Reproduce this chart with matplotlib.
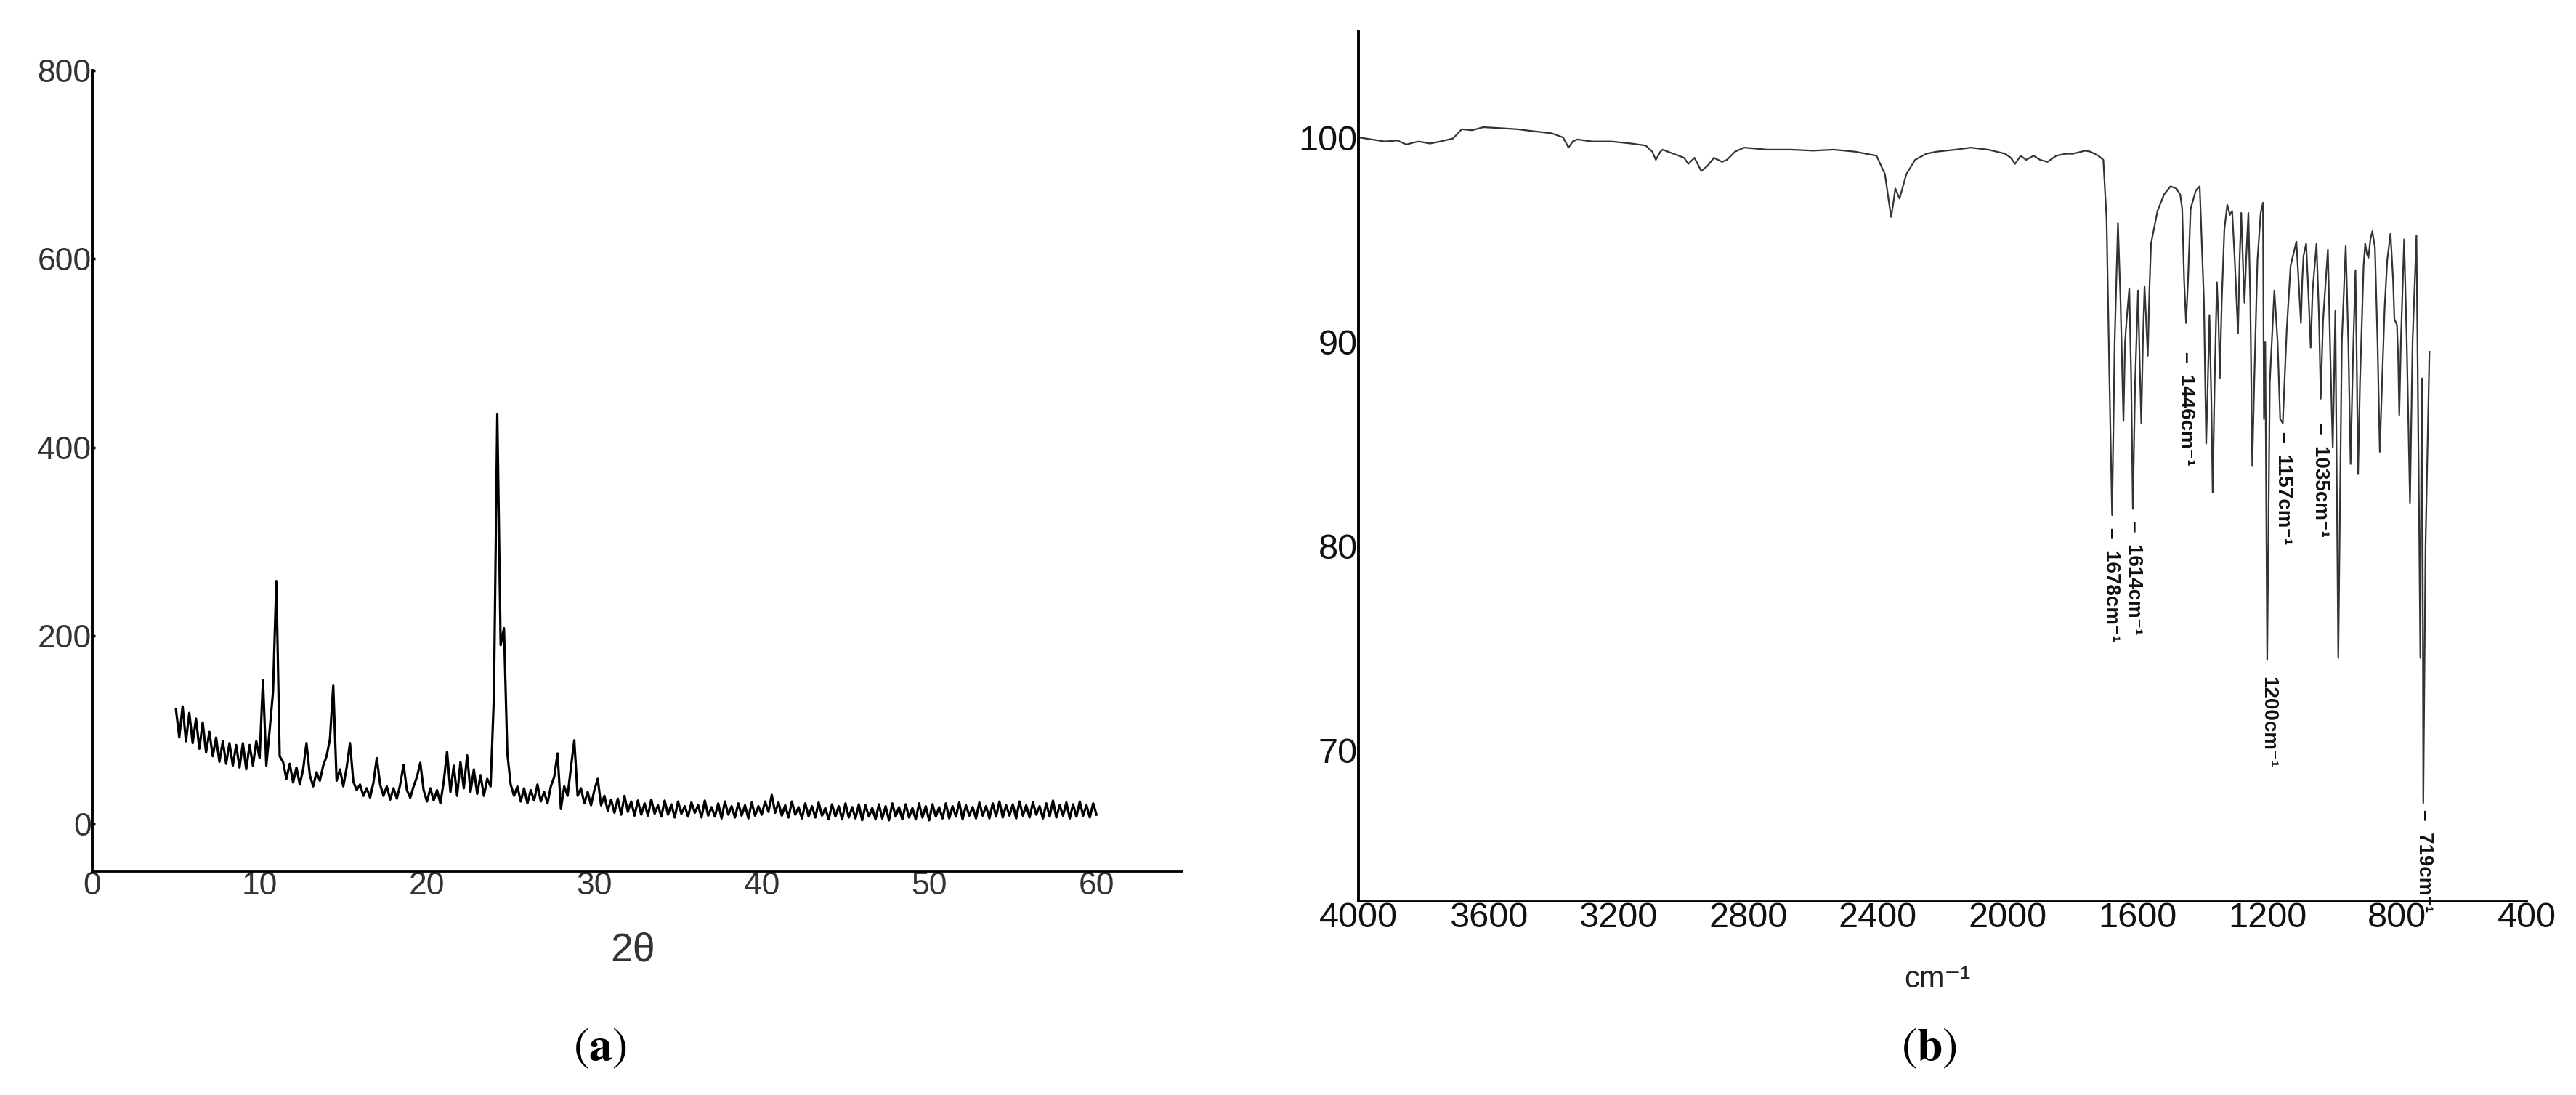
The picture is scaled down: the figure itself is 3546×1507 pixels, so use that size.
"""
Two-panel figure: (a) powder XRD pattern, (b) FT-IR spectrum.
"""
import numpy as np
import matplotlib
matplotlib.use("Agg")
import matplotlib.pyplot as plt

# ---------------------------------------------------------------- data (a)
# intensity read every 0.2 deg from 5.0 to 60.0 (2 theta)
xrd_start, xrd_step = 5.0, 0.2
xrd_intensity = [
    122, 92, 125, 88, 118, 86, 112, 80, 108, 76,      # 5.0 - 6.8
    98, 72, 92, 66, 88, 64, 86, 62, 84, 60,           # 7.0 - 8.8
    86, 58, 84, 62, 88, 70, 153, 62, 100, 140,        # 9.0 - 10.8
    258, 72, 66, 48, 64, 44, 60, 42, 58, 86,          # 11.0 - 12.8
    52, 40, 55, 46, 62, 72, 90, 147, 46, 58,          # 13.0 - 14.8
    40, 60, 86, 45, 36, 42, 30, 38, 28, 44,           # 15.0 - 16.8
    70, 42, 30, 40, 26, 38, 27, 42, 63, 36,           # 17.0 - 18.8
    28, 40, 50, 65, 36, 24, 38, 25, 36, 22,           # 19.0 - 20.8
    45, 77, 34, 62, 30, 66, 38, 73, 34, 58,           # 21.0 - 22.8
    32, 52, 30, 48, 40, 137, 435, 190, 208, 75,       # 23.0 - 24.8
    42, 30, 40, 24, 38, 22, 36, 25, 42, 24,           # 25.0 - 26.8
    34, 22, 40, 50, 75, 16, 40, 30, 60, 89,           # 27.0 - 28.8
    30, 38, 22, 34, 20, 36, 48, 20, 30, 14,           # 29.0 - 30.8
    26, 12, 27, 10, 30, 13, 24, 9, 25, 10,            # 31.0 - 32.8
    22, 9, 26, 11, 20, 8, 25, 10, 21, 7,              # 33.0 - 34.8
    24, 11, 19, 8, 23, 12, 20, 7, 25, 9,              # 35.0 - 36.8
    18, 8, 22, 6, 24, 10, 19, 7, 22, 9,               # 37.0 - 38.8
    20, 6, 23, 9, 19, 10, 24, 13, 31, 12,             # 39.0 - 40.8
    23, 9, 20, 7, 24, 10, 18, 6, 22, 8,               # 41.0 - 42.8
    19, 7, 23, 9, 17, 5, 21, 8, 19, 5,                # 43.0 - 44.8
    22, 7, 18, 6, 21, 4, 20, 8, 17, 5,                # 45.0 - 46.8
    21, 6, 19, 4, 22, 8, 18, 5, 21, 7,                # 47.0 - 48.8
    17, 5, 22, 7, 19, 4, 21, 8, 18, 6,                # 49.0 - 50.8
    22, 6, 19, 8, 23, 5, 20, 9, 18, 6,                # 51.0 - 52.8
    23, 9, 19, 6, 22, 8, 24, 7, 20, 9,                # 53.0 - 54.8
    21, 6, 24, 9, 20, 7, 23, 10, 19, 6,               # 55.0 - 56.8
    22, 8, 25, 7, 20, 9, 23, 6, 21, 8,                # 57.0 - 58.8
    24, 9, 20, 7, 22, 10,                             # 59.0 - 60.0
]
xrd_xticks = [0, 10, 20, 30, 40, 50, 60]
xrd_yticks = [0, 200, 400, 600, 800]

# ---------------------------------------------------------------- data (b)
ir_wavenumber = [
    4000, 3960, 3919, 3880, 3853, 3830, 3814, 3780, 3748, 3709,
    3682, 3650, 3616, 3560, 3511, 3460, 3405, 3370, 3353, 3340,
    3326, 3280, 3221, 3160, 3115, 3095, 3084, 3070, 3063, 3030,
    2997, 2984, 2965, 2944, 2925, 2905, 2880, 2865, 2840, 2812,
    2740, 2667, 2600, 2536, 2470, 2404, 2378, 2359, 2352, 2346,
    2333, 2312, 2285, 2250, 2219, 2160, 2114, 2060, 2008, 1990,
    1977, 1960, 1943, 1920, 1900, 1877, 1850, 1820, 1798, 1760,
    1745, 1720, 1705, 1695, 1686, 1678, 1670, 1660, 1652, 1643,
    1638, 1633, 1625, 1619, 1614, 1607, 1598, 1593, 1588, 1583,
    1578, 1573, 1568, 1563, 1558, 1538, 1518, 1498, 1480, 1468,
    1462, 1456, 1450, 1444, 1436, 1420, 1408, 1395, 1388, 1383,
    1378, 1372, 1368, 1362, 1355, 1350, 1346, 1340, 1332, 1323,
    1315, 1308, 1300, 1290, 1285, 1280, 1275, 1270, 1265, 1258,
    1252, 1246, 1240, 1230, 1220, 1213, 1210, 1206, 1200, 1192,
    1178, 1168, 1160, 1152, 1140, 1128, 1110, 1100, 1096, 1092,
    1088, 1080, 1072, 1066, 1060, 1048, 1040, 1035, 1028, 1013,
    1005, 998, 990, 981, 970, 958, 950, 943, 936, 928,
    924, 920, 914, 903, 898, 893, 888, 882, 876, 868,
    860, 853, 846, 838, 830, 820, 812, 808, 800, 796,
    793, 788, 778, 770, 760, 752, 740, 734, 728, 725,
    722, 719, 712, 700,
]
ir_transmittance = [
    100.0, 99.9, 99.8, 99.85, 99.65, 99.75, 99.8, 99.7, 99.8, 99.95,
    100.4, 100.35, 100.5, 100.45, 100.4, 100.3, 100.2, 100.0, 99.5, 99.8,
    99.9, 99.8, 99.8, 99.7, 99.6, 99.3, 98.9, 99.3, 99.4, 99.2,
    99.0, 98.7, 99.0, 98.35, 98.6, 99.0, 98.8, 98.9, 99.3, 99.5,
    99.4, 99.4, 99.35, 99.4, 99.3, 99.1, 98.2, 96.1, 96.8, 97.5,
    97.0, 98.2, 98.9, 99.2, 99.3, 99.4, 99.5, 99.4, 99.2, 99.0,
    98.7, 99.1, 98.9, 99.1, 98.9, 98.8, 99.1, 99.2, 99.2, 99.35,
    99.3, 99.1, 98.9, 96.0, 88.0, 81.5, 90.0, 95.8, 92.0, 86.1,
    90.0, 91.1, 92.6, 88.0, 81.8, 88.0, 92.5, 89.0, 86.0, 90.0,
    92.7, 91.0, 89.3, 92.5, 94.8, 96.4, 97.2, 97.6, 97.5, 97.2,
    96.5, 93.0, 90.9, 93.0, 96.5, 97.4, 97.6, 92.0, 85.0, 88.0,
    91.3, 87.0, 82.6, 88.0, 92.9, 91.0, 88.2, 92.0, 95.5, 96.7,
    96.2, 96.4, 94.0, 90.4, 94.0, 96.3, 94.0, 91.9, 94.0, 96.3,
    92.0, 83.9, 88.0, 94.0, 96.3, 96.8, 86.2, 90.0, 74.4, 88.0,
    92.5, 90.0, 86.2, 86.0, 90.5, 93.7, 94.9, 92.0, 90.9, 93.0,
    94.2, 94.8, 92.0, 89.7, 92.5, 94.8, 91.0, 87.2, 91.0, 94.5,
    89.0, 84.8, 91.5, 74.5, 90.0, 94.7, 90.0, 84.0, 89.0, 93.5,
    89.0, 83.5, 88.0, 93.7, 94.8, 94.3, 94.1, 95.0, 95.4, 94.6,
    90.0, 84.6, 88.0, 91.7, 94.0, 95.3, 93.0, 91.1, 90.8, 89.0,
    86.4, 90.0, 95.0, 90.0, 82.1, 90.0, 95.2, 85.0, 74.5, 85.0,
    88.2, 67.4, 80.0, 89.5,
]
ir_xticks = [4000, 3600, 3200, 2800, 2400, 2000, 1600, 1200, 800, 400]
ir_yticks = [70, 80, 90, 100]

# band labels: text, anchor wavenumber, anchor transmittance (text start)
band_labels = ["1678cm⁻¹", "1614cm⁻¹", "1446cm⁻¹", "1157cm⁻¹",
               "1035cm⁻¹", "1200cm⁻¹", "719cm⁻¹"]
band_wavenumber = [1680, 1611, 1450, 1150, 1037, 1198, 717]
band_start = [80.9, 81.2, 89.5, 85.6, 86.0, 73.6, 67.1]
band_dash = [True, True, True, True, True, False, True]

SANS = ["Liberation Sans", "DejaVu Sans"]

plt.rcParams["mathtext.fontset"] = "stix"


def plot_xrd(ax):
    """Panel (a): XRD pattern."""
    two_theta = xrd_start + xrd_step * np.arange(len(xrd_intensity))
    ax.plot(two_theta, xrd_intensity, color="black", lw=2.3)

    ax.set_xlim(0, 65.1)
    ax.set_ylim(-50, 800)
    ax.set_xticks(xrd_xticks)
    ax.set_yticks(xrd_yticks)
    for side in ("top", "right"):
        ax.spines[side].set_visible(False)
    ax.spines["left"].set_linewidth(2.8)
    ax.spines["bottom"].set_linewidth(2.0)
    ax.tick_params(axis="y", direction="in", length=3, width=2.5, pad=1,
                   labelsize=32, labelcolor="#333333")
    ax.tick_params(axis="x", length=0, pad=0, labelsize=32, labelcolor="#333333")
    for lab in ax.get_xticklabels() + ax.get_yticklabels():
        lab.set_family(SANS)


def plot_ir(ax):
    """Panel (b): FT-IR spectrum with band assignments."""
    ax.plot(ir_wavenumber, ir_transmittance, color="#333333", lw=1.6)

    ax.set_xlim(4000, 400)
    ax.set_ylim(62.6, 105.2)
    ax.set_xticks(ir_xticks)
    ax.set_yticks(ir_yticks)
    for side in ("top", "right"):
        ax.spines[side].set_visible(False)
    ax.spines["left"].set_linewidth(2.8)
    ax.spines["bottom"].set_linewidth(2.0)
    ax.tick_params(axis="both", length=0, pad=1, labelsize=35, labelcolor="#111111")
    for lab in ax.get_xticklabels() + ax.get_yticklabels():
        lab.set_family(SANS)

    for text, wn, start, dash in zip(band_labels, band_wavenumber, band_start, band_dash):
        label = ("–  " + text) if dash else text
        ax.text(wn, start, label, rotation=270, rotation_mode="anchor",
                ha="left", va="center", fontsize=20, fontweight="bold",
                family=SANS, color="#111111")


def main():
    fig = plt.figure(figsize=(35.46, 15.07), dpi=100)
    ax_a = fig.add_axes([0.0358, 0.2044, 0.4230, 0.7313])
    ax_b = fig.add_axes([0.5274, 0.1772, 0.4535, 0.7943])

    plot_xrd(ax_a)
    plot_ir(ax_b)

    fig.text(0.2456, 0.132, "2θ", ha="center", va="center", fontsize=40,
             family=SANS, color="#333333")
    fig.text(0.752, 0.1055, "cm⁻¹", ha="center", va="center", fontsize=30,
             family=SANS, color="#222222")
    fig.text(0.233, 0.0431, r"$(\mathbf{a})$", ha="center", va="center", fontsize=46)
    fig.text(0.749, 0.0431, r"$(\mathbf{b})$", ha="center", va="center", fontsize=46)

    fig.savefig("out.png", dpi=100)


if __name__ == "__main__":
    main()
